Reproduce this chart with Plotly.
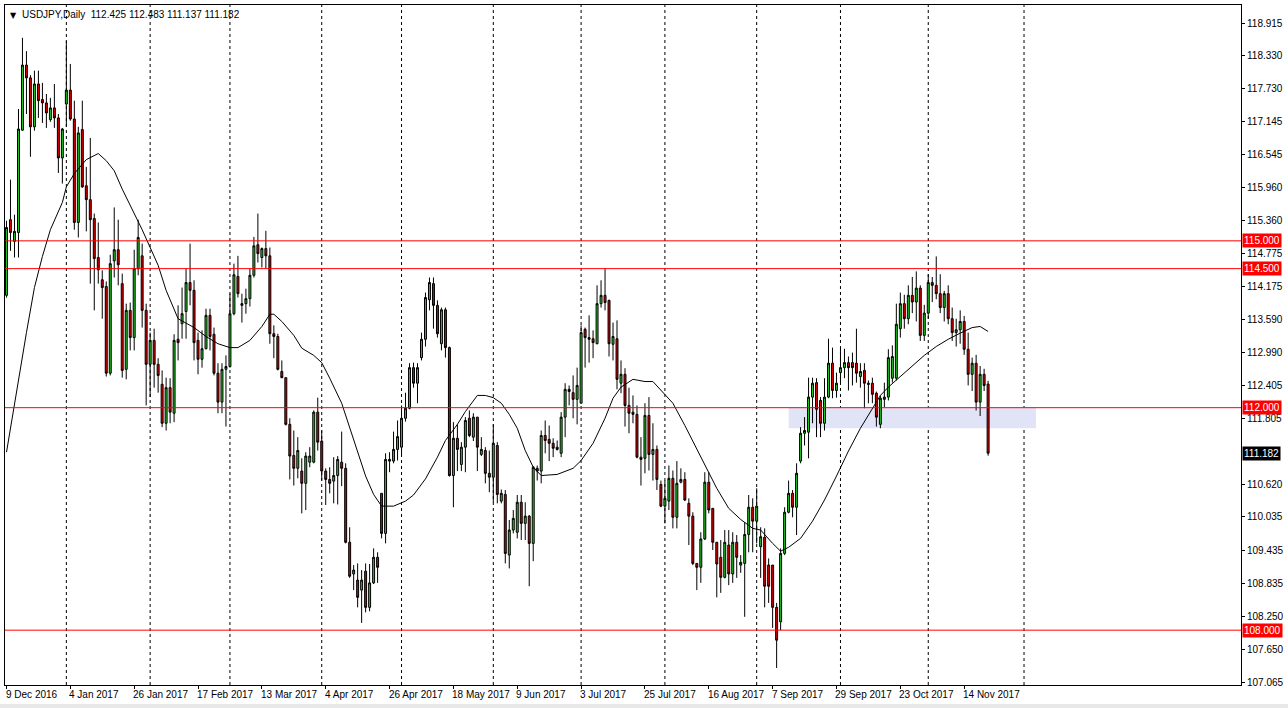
import plotly.graph_objects as go

# ---------------- data (USDJPY daily) ----------------
opens = [114.02,115.38,114.99,115.15,116.99,118.16,117.93,117.05,117.82,117.54,
117.48,117.18,117.39,117.21,116.49,117.46,117.71,117.19,115.33,117.00,
115.99,115.74,115.40,114.70,114.30,114.18,112.62,114.64,114.84,114.23,
112.69,113.75,113.26,114.50,114.73,113.75,112.78,113.21,112.78,112.42,
111.72,112.36,111.90,113.23,113.51,113.73,114.25,114.11,113.21,112.87,
113.06,113.66,113.32,112.62,112.10,112.69,112.74,113.69,114.36,113.84,
113.87,113.96,114.38,114.93,114.70,114.86,114.73,113.33,113.28,112.65,
112.54,111.70,111.14,110.91,110.86,110.64,111.02,111.02,111.92,111.40,
110.86,110.71,110.68,110.78,111.02,110.91,109.58,109.01,108.90,108.72,
109.06,108.41,108.85,109.31,110.46,109.74,111.07,111.04,111.25,111.29,
111.81,111.99,112.72,112.44,112.90,113.23,113.94,114.23,113.84,113.15,
113.76,113.08,110.78,111.45,110.98,111.29,111.81,111.47,111.83,111.16,
111.23,110.82,110.75,111.32,110.32,110.44,109.35,109.80,109.76,110.30,
109.92,110.05,109.56,110.91,110.86,111.50,111.43,111.36,111.29,111.18,
111.83,112.33,112.27,112.15,112.08,113.41,113.26,113.24,113.15,113.87,
114.02,113.93,113.14,113.24,112.44,112.60,112.04,111.92,111.88,111.11,
111.09,111.86,111.16,111.25,110.62,110.23,110.32,110.73,110.03,110.66,
110.71,110.28,110.05,109.20,109.13,109.64,110.66,110.19,109.58,109.31,
108.95,109.53,109.01,109.58,109.17,109.20,109.72,110.21,109.96,109.50,
109.67,109.17,109.17,108.41,108.15,109.38,110.12,110.46,110.21,111.04,
111.54,111.56,112.19,112.45,112.13,111.72,112.19,112.80,112.31,112.63,
112.72,112.81,112.81,112.80,112.56,112.67,112.44,112.44,112.26,111.70,
112.15,112.19,112.53,112.53,113.42,113.87,113.60,114.02,113.90,114.15,
113.30,113.70,114.25,114.20,114.05,113.80,114.05,113.60,113.35,113.40,
113.55,113.05,112.60,112.80,112.10,112.60,112.425]

highs = [115.36,116.10,115.47,117.37,118.65,118.41,117.98,118.06,118.06,117.84,
117.64,117.57,117.82,117.28,117.03,118.59,118.18,117.52,117.05,117.52,
116.33,116.85,115.49,115.33,114.47,114.27,114.75,115.60,115.38,114.41,
113.87,113.89,114.84,115.38,114.95,113.87,113.35,113.42,112.89,112.67,
112.54,112.53,113.32,113.84,114.16,114.50,114.95,114.29,113.35,113.39,
113.78,113.78,113.44,112.80,112.80,112.94,114.05,114.59,114.73,114.05,
114.14,114.50,115.07,115.49,114.88,115.18,114.88,113.48,113.33,112.85,
112.54,111.81,111.59,111.47,111.09,111.20,111.29,111.95,112.18,111.59,
110.91,110.93,111.11,111.13,111.57,111.00,109.85,109.17,109.20,109.08,
109.20,109.19,109.47,109.40,110.46,111.18,111.20,111.57,111.77,112.04,
112.27,112.80,112.81,112.80,113.35,114.07,114.34,114.34,113.93,113.80,
113.80,113.10,111.74,111.70,111.38,111.83,111.95,111.90,111.83,111.47,
111.29,111.23,111.70,111.38,110.53,110.52,109.98,110.16,110.43,110.43,
110.30,110.07,110.95,110.96,111.59,111.77,111.68,111.45,111.41,111.92,
112.44,112.40,112.58,112.72,113.48,113.44,113.66,113.39,114.20,114.29,
114.50,113.94,113.53,113.57,112.85,112.71,112.36,112.22,112.04,111.47,
112.08,112.19,111.72,111.32,110.69,110.69,110.96,110.87,111.04,110.91,
110.84,110.37,110.12,109.20,109.76,110.84,110.84,110.19,109.58,109.62,
109.80,109.80,109.76,109.71,109.35,109.94,110.43,110.37,110.55,109.85,
109.83,109.29,109.17,108.49,109.47,110.21,110.69,110.52,111.00,111.65,
111.83,112.54,112.54,112.53,112.19,112.53,113.24,113.08,112.63,113.08,
113.06,112.92,112.99,113.42,112.80,112.80,112.49,112.54,112.29,112.22,
112.45,113.05,113.12,113.87,114.07,114.03,114.20,114.35,114.45,114.20,
113.85,114.40,114.35,114.72,114.40,114.10,114.20,113.80,113.60,113.75,
113.65,113.35,112.90,112.95,112.75,112.70,112.483]

lows = [113.98,114.82,114.70,114.70,116.98,117.28,116.51,116.98,117.21,117.12,
117.03,117.14,117.03,116.22,116.03,117.05,117.16,115.20,115.06,115.95,
115.17,114.23,113.75,114.23,113.60,112.56,112.58,114.34,114.20,112.54,
112.51,113.03,113.03,114.38,113.44,112.04,112.19,112.36,112.27,111.65,
111.59,111.72,111.74,112.85,113.24,113.24,113.84,112.85,112.60,112.72,
113.05,113.03,112.58,111.90,111.90,111.66,112.72,113.66,113.98,113.53,
113.69,113.82,114.34,114.61,114.52,114.50,113.15,112.89,112.67,112.53,
111.68,110.71,110.60,110.73,110.10,110.16,110.93,111.00,111.23,110.69,
110.25,110.46,110.28,110.26,110.59,109.56,108.94,108.72,108.41,108.13,
108.32,108.34,108.83,108.85,109.65,109.56,110.84,111.00,111.05,111.14,
111.75,111.97,112.36,112.08,112.85,113.10,113.75,113.42,113.26,113.03,
112.90,110.76,110.21,110.86,110.86,110.84,111.47,111.40,110.86,111.13,
110.64,110.48,110.30,110.28,110.28,109.20,109.11,109.74,109.65,109.62,
109.62,108.79,109.24,110.69,110.64,111.18,111.04,111.11,111.23,111.11,
111.47,112.04,111.81,111.70,112.08,112.72,112.81,112.89,113.14,113.80,
113.75,112.92,112.85,112.33,112.26,111.66,111.54,111.72,111.09,110.60,
110.82,110.87,110.69,110.52,110.21,109.92,110.16,109.83,109.83,110.64,
110.32,109.53,109.17,108.72,108.85,109.62,110.10,109.44,108.59,108.67,
108.93,108.81,108.85,108.94,109.03,108.24,109.40,109.40,109.56,108.94,
108.41,108.49,108.04,107.32,108.00,109.35,110.10,110.03,109.71,111.00,
111.32,111.09,111.72,111.47,111.47,111.59,112.17,112.17,112.18,112.44,
112.53,112.31,112.40,112.45,112.36,111.99,112.08,112.08,111.66,111.63,
112.01,112.13,112.45,112.49,113.26,113.42,113.50,113.70,113.55,113.20,
113.20,113.60,113.90,113.95,113.70,113.55,113.50,113.20,113.10,113.15,
112.95,112.40,112.30,111.95,111.85,112.30,111.137]

closes = [115.24,115.15,115.17,117.01,118.16,117.93,117.05,117.82,117.52,117.48,
117.30,117.39,117.21,116.49,117.01,117.71,117.19,115.33,116.94,115.97,
115.74,115.38,114.68,114.48,114.16,112.62,114.59,114.84,114.57,112.67,
113.75,113.26,114.50,115.06,113.75,112.78,113.21,112.78,112.58,111.72,
112.36,111.92,113.21,113.17,113.69,114.25,114.11,113.17,112.87,113.06,
113.66,113.28,112.62,112.10,112.69,112.74,113.69,114.39,114.05,113.87,
113.96,114.38,114.91,114.77,114.86,114.73,113.33,113.28,112.69,112.54,
111.70,111.13,110.91,111.23,110.64,111.13,111.13,111.92,111.38,110.86,
110.71,110.64,110.78,111.07,110.91,109.58,108.97,109.08,108.59,108.90,
108.41,108.85,109.31,109.13,109.74,111.07,111.04,111.25,111.48,111.81,
111.99,112.72,112.44,112.72,113.23,113.98,114.25,113.84,113.33,113.76,
113.08,110.78,111.45,111.25,111.29,111.77,111.50,111.83,111.29,111.25,
110.82,110.75,111.36,110.44,110.46,109.38,109.80,110.01,110.30,109.92,
110.05,109.56,110.93,110.86,111.50,111.41,111.36,111.27,111.25,111.83,
112.33,112.29,112.15,112.40,113.35,113.26,113.23,113.17,113.87,114.02,
113.89,113.15,113.28,112.51,112.60,112.04,111.90,111.88,111.11,111.07,
111.86,111.16,111.25,110.71,110.23,110.37,110.73,110.03,110.64,110.71,
110.34,110.05,109.20,109.13,109.64,110.66,110.16,109.58,109.19,108.95,
109.58,109.01,109.58,109.31,109.22,109.72,110.21,109.96,110.23,109.68,
108.79,108.79,108.41,107.82,109.38,110.12,110.46,110.21,110.82,111.54,
111.59,112.19,112.44,111.97,111.72,112.19,112.80,112.31,112.44,112.72,
112.81,112.72,112.72,112.62,112.65,112.44,112.42,112.24,111.83,112.17,
112.19,112.90,112.92,113.50,113.87,113.60,114.02,113.90,114.15,113.30,
113.70,114.25,114.20,114.05,113.80,114.05,113.60,113.35,113.40,113.55,
113.05,112.60,112.80,112.10,112.60,112.40,111.182]

bars = list(range(len(opens)))

# moving average (sampled at bars)
ma_bars = [0,2,5,7,9,11,14,15,17,20,23,25,27,29,32,34,38,40,43,47,50,53,56,58,61,64,66,67,69,72,
           74,77,79,81,84,87,90,92,94,97,100,102,105,108,110,113,115,118,120,122,124,126,128,130,132,
           134,138,142,144,147,150,152,154,157,160,162,164,167,170,173,175,178,181,184,187,189,192,194,
           196,199,202,205,208,211,214,217,219,221,224,227,230,233,236,239,242,244,246]
ma_vals = [111.20,112.08,113.35,114.16,114.72,115.20,115.69,115.97,116.21,116.46,116.57,116.44,116.26,
           115.93,115.48,115.20,114.56,114.11,113.60,113.44,113.28,113.15,113.08,113.08,113.21,113.46,
           113.68,113.68,113.55,113.30,113.07,112.94,112.81,112.53,112.08,111.41,110.77,110.44,110.23,
           110.23,110.32,110.43,110.72,111.11,111.41,111.70,111.93,112.22,112.22,112.18,112.08,111.88,
           111.63,111.23,110.93,110.78,110.80,110.91,111.05,111.36,111.81,112.17,112.37,112.51,112.47,
           112.47,112.31,112.08,111.68,111.25,110.96,110.55,110.19,109.99,109.83,109.80,109.56,109.42,
           109.49,109.65,109.96,110.34,110.77,111.22,111.63,111.99,112.22,112.37,112.56,112.74,112.94,
           113.10,113.23,113.34,113.44,113.46,113.37]

date_labels = ["9 Dec 2016", "4 Jan 2017", "26 Jan 2017", "17 Feb 2017", "13 Mar 2017",
               "4 Apr 2017", "26 Apr 2017", "18 May 2017", "9 Jun 2017", "3 Jul 2017",
               "25 Jul 2017", "16 Aug 2017", "7 Sep 2017", "29 Sep 2017", "23 Oct 2017",
               "14 Nov 2017"]
date_label_bars = [0, 16, 32, 48, 64, 80, 96, 112, 128, 144, 160, 176, 192, 208, 224, 240]
month_start_bars = [15, 36, 56, 79, 99, 122, 144, 165, 188, 209, 231, 255]

price_ticks = [118.915, 118.330, 117.730, 117.145, 116.545, 115.960, 115.360, 114.775,
               114.175, 113.590, 112.990, 112.405, 111.805, 110.620, 110.035, 109.435,
               108.835, 108.250, 107.650, 107.065]
levels = [115.0, 114.5, 112.0, 108.0]
zone_bars = [196, 258]
zone_prices = [111.63, 112.0]
symbol = "USDJPY,Daily"

# ---------------- figure ----------------
FONT = "Liberation Sans, Arial, sans-serif"
BULL = "#22CC22"
BEAR = "#DD0000"

fig = go.Figure()

fig.add_trace(go.Candlestick(
    x=bars, open=opens, high=highs, low=lows, close=closes,
    increasing=dict(fillcolor=BULL, line=dict(color="black", width=1)),
    decreasing=dict(fillcolor=BEAR, line=dict(color="black", width=1)),
    whiskerwidth=0, showlegend=False, hoverinfo="skip",
))

fig.add_trace(go.Scatter(
    x=ma_bars, y=ma_vals, mode="lines",
    line=dict(color="black", width=1), showlegend=False, hoverinfo="skip",
))

shapes = []
for b in month_start_bars:
    shapes.append(dict(type="line", xref="x", yref="paper", x0=b, x1=b, y0=0, y1=1,
                       line=dict(color="black", width=1, dash="3px,3px"), layer="below"))
shapes.append(dict(type="rect", xref="x", yref="y", x0=zone_bars[0], x1=zone_bars[1],
                   y0=zone_prices[0], y1=zone_prices[1], fillcolor="#E1E3F7",
                   line=dict(width=0), layer="below"))
for lv in levels:
    shapes.append(dict(type="line", xref="paper", yref="y", x0=0, x1=1, y0=lv, y1=lv,
                       line=dict(color="#FF0000", width=1), layer="above"))
# window chrome (bottom grey strip)
shapes.append(dict(type="rect", xref="paper", yref="paper", x0=-0.01, x1=1.05,
                   y0=-(708 - 685) / 681, y1=-(704 - 685) / 681,
                   fillcolor="#E8E8E8", line=dict(width=0), layer="below"))

annotations = []
for b, t in zip(date_label_bars, date_labels):
    annotations.append(dict(x=b, y=0, xref="x", yref="paper", text=t, showarrow=False,
                            xanchor="left", yanchor="top", yshift=-2, xshift=-3,
                            font=dict(family=FONT, size=10, color="black")))
for lv in levels:
    annotations.append(dict(x=1, y=lv, xref="paper", yref="y", text=f"{lv:.3f}",
                            showarrow=False, xanchor="left", yanchor="middle", xshift=1,
                            bgcolor="#FF0000", borderpad=1,
                            font=dict(family=FONT, size=10, color="white")))
annotations.append(dict(x=1, y=closes[-1], xref="paper", yref="y", text=f"{closes[-1]:.3f}",
                        showarrow=False, xanchor="left", yanchor="middle", xshift=1,
                        bgcolor="black", borderpad=1,
                        font=dict(family=FONT, size=10, color="white")))
annotations.append(dict(x=0, y=1, xref="paper", yref="paper", text="▼", showarrow=False,
                        xanchor="left", yanchor="top", xshift=3, yshift=-4,
                        font=dict(family="DejaVu Sans", size=8, color="black")))
annotations.append(dict(x=0, y=1, xref="paper", yref="paper",
                        text=f"{symbol}  {opens[-1]:.3f} {highs[-1]:.3f} {lows[-1]:.3f} {closes[-1]:.3f}",
                        showarrow=False, xanchor="left", yanchor="top", xshift=15, yshift=-2,
                        font=dict(family=FONT, size=10, color="black")))

fig.update_layout(
    width=1288, height=708,
    margin=dict(l=4, r=45, t=4, b=23),
    paper_bgcolor="white", plot_bgcolor="white",
    shapes=shapes, annotations=annotations,
    showlegend=False, boxgap=0.3,
    font=dict(family=FONT, size=10, color="black"),
)
fig.update_xaxes(
    range=[-0.375, 309.375], rangeslider=dict(visible=False),
    showgrid=False, zeroline=False,
    showline=True, linecolor="black", linewidth=1, mirror=True,
    tickmode="array", tickvals=date_label_bars, showticklabels=False,
    ticks="outside", ticklen=3, tickcolor="black",
)
fig.update_yaxes(
    range=[107.014, 119.24], side="right",
    showgrid=False, zeroline=False,
    showline=True, linecolor="black", linewidth=1, mirror=True,
    tickmode="array", tickvals=price_ticks, ticktext=[f"{v:.3f}" for v in price_ticks],
    ticks="outside", ticklen=3, tickcolor="black",
    tickfont=dict(family=FONT, size=10, color="black"),
)

fig.write_html("out.html", config={"displayModeBar": False},
               post_script="document.body.style.margin='0';document.body.style.overflow='hidden';")
